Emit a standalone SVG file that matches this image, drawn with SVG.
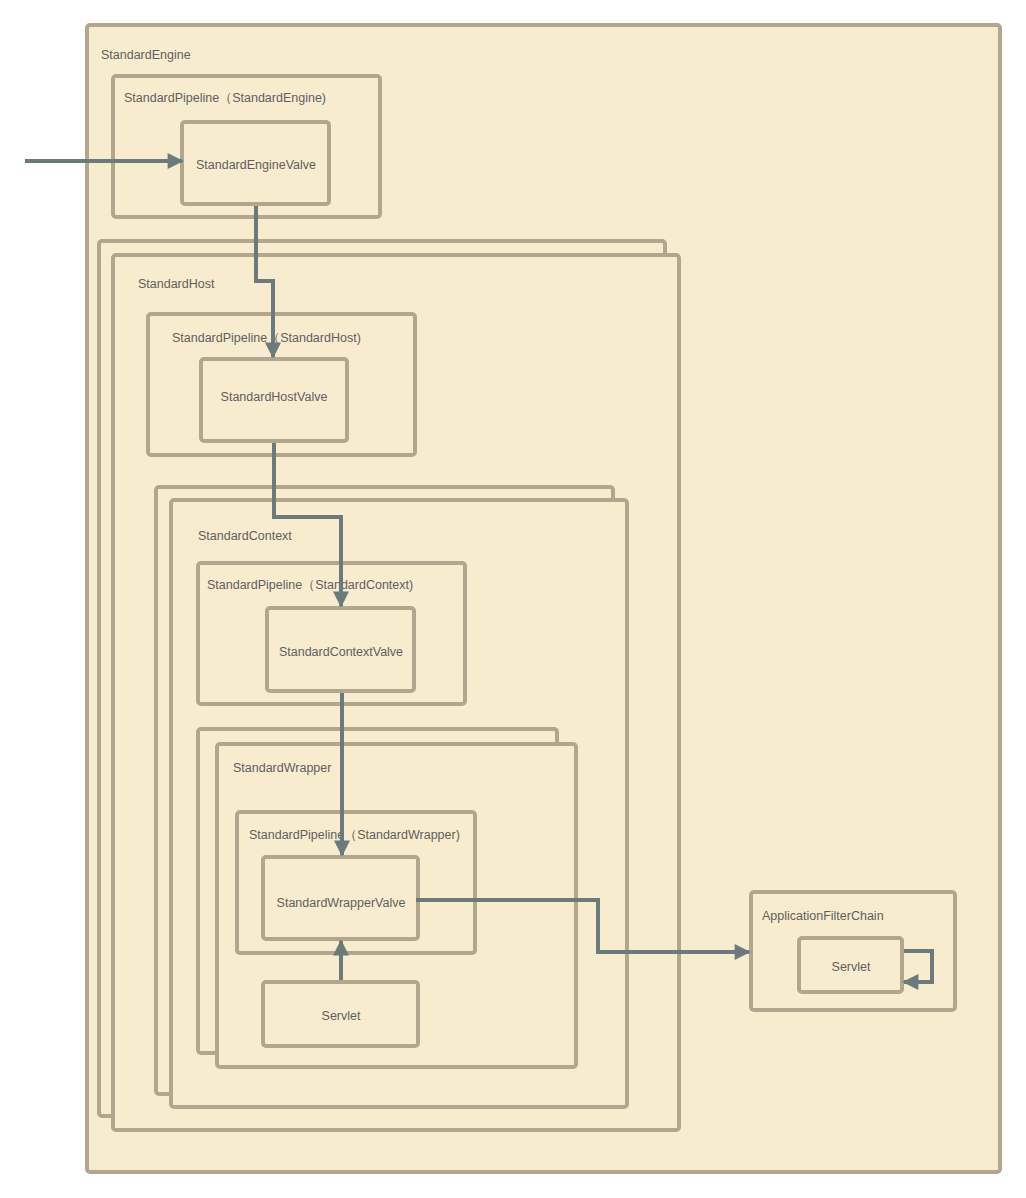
<svg xmlns="http://www.w3.org/2000/svg" width="1026" height="1198" viewBox="0 0 1026 1198">
<style>
rect{fill:#f7ecce;stroke:#b0a78e;stroke-width:4}
text{font-family:"Liberation Sans",Arial,sans-serif;font-size:12.5px;fill:#5f5f5f}
.c{text-anchor:middle}
.e{fill:none;stroke:#6b7b7b;stroke-width:4}
</style>
<defs><marker id="a" viewBox="0 0 10 10" refX="9" refY="5" markerWidth="4.5" markerHeight="4" orient="auto" markerUnits="strokeWidth"><path d="M0,0L10,5L0,10z" fill="#6b7b7b"/></marker></defs>
<rect width="1026" height="1198" style="fill:#fff;stroke:none"/>
<g id="engine"><rect x="87" y="25" width="913" height="1147" rx="3"/><text x="101" y="59">StandardEngine</text></g>
<g id="enginePipeline"><rect x="113" y="76" width="267" height="141" rx="3"/><text x="124" y="102">StandardPipeline（StandardEngine)</text></g>
<g id="engineValve"><rect x="182" y="122" width="147" height="82" rx="3"/><text x="256" y="169" class="c">StandardEngineValve</text></g>
<g id="hostBack"><rect x="99" y="241" width="566" height="875" rx="3"/></g>
<g id="host"><rect x="113" y="255" width="566" height="875" rx="3"/><text x="138" y="288">StandardHost</text></g>
<g id="hostPipeline"><rect x="148" y="314" width="267" height="141" rx="3"/><text x="172" y="342">StandardPipeline（StandardHost)</text></g>
<g id="hostValve"><rect x="201" y="359" width="146" height="82" rx="3"/><text x="274" y="401" class="c">StandardHostValve</text></g>
<g id="contextBack"><rect x="156" y="487" width="457" height="607" rx="3"/></g>
<g id="context"><rect x="171" y="500" width="456" height="607" rx="3"/><text x="198" y="540">StandardContext</text></g>
<g id="contextPipeline"><rect x="198" y="563" width="267" height="141" rx="3"/><text x="207" y="589">StandardPipeline（StandardContext)</text></g>
<g id="contextValve"><rect x="267" y="608" width="147" height="83" rx="3"/><text x="341" y="656" class="c">StandardContextValve</text></g>
<g id="wrapperBack"><rect x="198" y="729" width="359" height="324" rx="3"/></g>
<g id="wrapper"><rect x="217" y="744" width="359" height="323" rx="3"/><text x="233" y="772">StandardWrapper</text></g>
<g id="wrapperPipeline"><rect x="237" y="812" width="238" height="141" rx="3"/><text x="249" y="839">StandardPipeline（StandardWrapper)</text></g>
<g id="wrapperValve"><rect x="263" y="857" width="155" height="82" rx="3"/><text x="341" y="907" class="c">StandardWrapperValve</text></g>
<g id="servlet"><rect x="263" y="982" width="155" height="64" rx="3"/><text x="341" y="1020" class="c">Servlet</text></g>
<g id="filterChain"><rect x="751" y="892" width="204" height="118" rx="3"/><text x="762" y="920">ApplicationFilterChain</text></g>
<g id="chainServlet"><rect x="799" y="938" width="103" height="54" rx="3"/><text x="851" y="971" class="c">Servlet</text></g>
<g id="connectors">
<path class="e" d="M25,161H182" marker-end="url(#a)"/>
<path class="e" d="M256,206V281H273V357" marker-end="url(#a)"/>
<path class="e" d="M274,443V517H341V606" marker-end="url(#a)"/>
<path class="e" d="M342,693V855" marker-end="url(#a)"/>
<path class="e" d="M416,900H598V952H749" marker-end="url(#a)"/>
<path class="e" d="M341,980V941" marker-end="url(#a)"/>
<path class="e" d="M904,951H932V982H904" marker-end="url(#a)"/>
</g>
</svg>
